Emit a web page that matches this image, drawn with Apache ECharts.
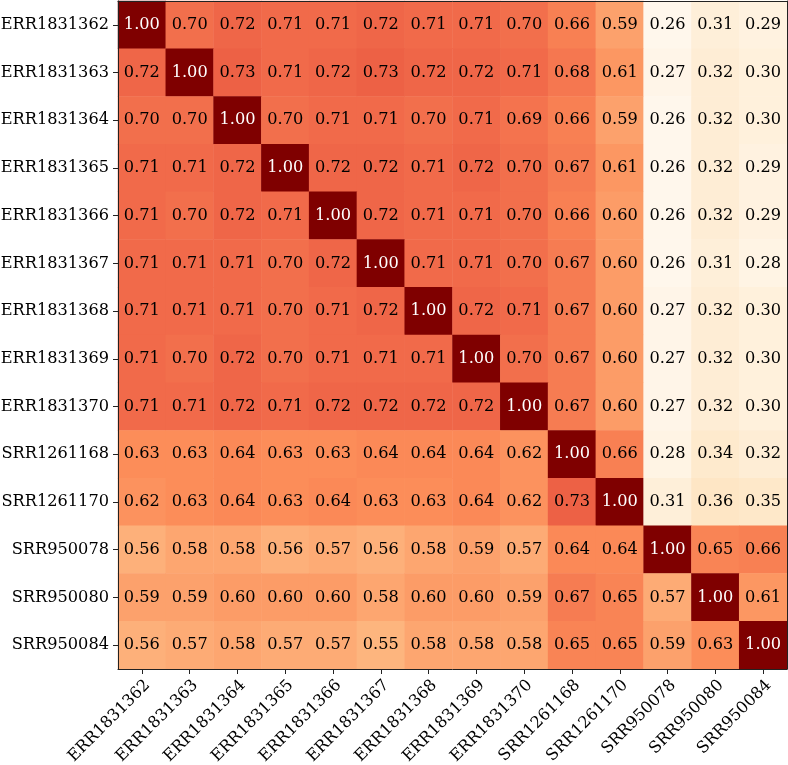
<!DOCTYPE html>
<html>
<head>
<meta charset="utf-8">
<script src="https://cdn.jsdelivr.net/npm/echarts@6/dist/echarts.min.js"></script>
<style>
  html, body { margin: 0; padding: 0; background: #fff; }
  #chart { width: 788px; height: 765px; }
</style>
</head>
<body>
<div id="chart"></div>
<script>
const samples = [
  'ERR1831362', 'ERR1831363', 'ERR1831364', 'ERR1831365', 'ERR1831366',
  'ERR1831367', 'ERR1831368', 'ERR1831369', 'ERR1831370', 'SRR1261168',
  'SRR1261170', 'SRR950078', 'SRR950080', 'SRR950084'
];

// one row per sample, same order as columns
const rowERR1831362 = [1.00, 0.70, 0.72, 0.71, 0.71, 0.72, 0.71, 0.71, 0.70, 0.66, 0.59, 0.26, 0.31, 0.29];
const rowERR1831363 = [0.72, 1.00, 0.73, 0.71, 0.72, 0.73, 0.72, 0.72, 0.71, 0.68, 0.61, 0.27, 0.32, 0.30];
const rowERR1831364 = [0.70, 0.70, 1.00, 0.70, 0.71, 0.71, 0.70, 0.71, 0.69, 0.66, 0.59, 0.26, 0.32, 0.30];
const rowERR1831365 = [0.71, 0.71, 0.72, 1.00, 0.72, 0.72, 0.71, 0.72, 0.70, 0.67, 0.61, 0.26, 0.32, 0.29];
const rowERR1831366 = [0.71, 0.70, 0.72, 0.71, 1.00, 0.72, 0.71, 0.71, 0.70, 0.66, 0.60, 0.26, 0.32, 0.29];
const rowERR1831367 = [0.71, 0.71, 0.71, 0.70, 0.72, 1.00, 0.71, 0.71, 0.70, 0.67, 0.60, 0.26, 0.31, 0.28];
const rowERR1831368 = [0.71, 0.71, 0.71, 0.70, 0.71, 0.72, 1.00, 0.72, 0.71, 0.67, 0.60, 0.27, 0.32, 0.30];
const rowERR1831369 = [0.71, 0.70, 0.72, 0.70, 0.71, 0.71, 0.71, 1.00, 0.70, 0.67, 0.60, 0.27, 0.32, 0.30];
const rowERR1831370 = [0.71, 0.71, 0.72, 0.71, 0.72, 0.72, 0.72, 0.72, 1.00, 0.67, 0.60, 0.27, 0.32, 0.30];
const rowSRR1261168 = [0.63, 0.63, 0.64, 0.63, 0.63, 0.64, 0.64, 0.64, 0.62, 1.00, 0.66, 0.28, 0.34, 0.32];
const rowSRR1261170 = [0.62, 0.63, 0.64, 0.63, 0.64, 0.63, 0.63, 0.64, 0.62, 0.73, 1.00, 0.31, 0.36, 0.35];
const rowSRR950078  = [0.56, 0.58, 0.58, 0.56, 0.57, 0.56, 0.58, 0.59, 0.57, 0.64, 0.64, 1.00, 0.65, 0.66];
const rowSRR950080  = [0.59, 0.59, 0.60, 0.60, 0.60, 0.58, 0.60, 0.60, 0.59, 0.67, 0.65, 0.57, 1.00, 0.61];
const rowSRR950084  = [0.56, 0.57, 0.58, 0.57, 0.57, 0.55, 0.58, 0.58, 0.58, 0.65, 0.65, 0.59, 0.63, 1.00];

const rows = [
  rowERR1831362, rowERR1831363, rowERR1831364, rowERR1831365, rowERR1831366,
  rowERR1831367, rowERR1831368, rowERR1831369, rowERR1831370, rowSRR1261168,
  rowSRR1261170, rowSRR950078, rowSRR950080, rowSRR950084
];

// matplotlib OrRd
const orRd = ['#fff7ec', '#fee8c8', '#fdd49e', '#fdbb84', '#fc8d59', '#ef6548', '#d7301f', '#b30000', '#7f0000'];

const font = 'DejaVu Serif';
const fontSize = 16.2;
const spine = '#222';

const cells = [];
rows.forEach((row, y) => {
  row.forEach((v, x) => {
    cells.push({
      value: [x, y, v],
      label: { color: v >= 0.9 ? '#fff' : '#000' }
    });
  });
});
const allValues = rows.flat();
const vmin = Math.min(...allValues);
const vmax = Math.max(...allValues);

const chart = echarts.init(document.getElementById('chart'));

const frameAxis = {
  type: 'category',
  data: samples,
  axisLine: { show: true, lineStyle: { color: spine, width: 1 } },
  axisTick: { show: false },
  axisLabel: { show: false },
  splitLine: { show: false },
  z: 5
};

chart.setOption({
  animation: false,
  grid: {
    left: 118, top: 1, right: 1, bottom: 96,
    containLabel: false,
    outerBoundsMode: 'none'
  },
  xAxis: [
    {
      type: 'category',
      data: samples,
      position: 'bottom',
      axisLine: { show: true, lineStyle: { color: spine, width: 1 } },
      axisTick: { show: true, alignWithLabel: true, length: 5, lineStyle: { color: spine } },
      axisLabel: {
        rotate: 45,
        interval: 0,
        margin: 8,
        verticalAlign: 'top',
        color: '#000',
        fontFamily: font,
        fontSize: fontSize
      },
      splitLine: { show: false },
      z: 5
    },
    Object.assign({}, frameAxis, { position: 'top' })
  ],
  yAxis: [
    {
      type: 'category',
      data: samples,
      inverse: true,
      position: 'left',
      axisLine: { show: true, lineStyle: { color: spine, width: 1 } },
      axisTick: { show: true, alignWithLabel: true, length: 5, lineStyle: { color: spine } },
      axisLabel: {
        interval: 0,
        margin: 9,
        color: '#000',
        fontFamily: font,
        fontSize: fontSize
      },
      splitLine: { show: false },
      z: 5
    },
    Object.assign({}, frameAxis, { position: 'right', inverse: true })
  ],
  visualMap: {
    show: false,
    type: 'continuous',
    min: vmin,
    max: vmax,
    dimension: 2,
    inRange: { color: orRd }
  },
  series: [
    {
      type: 'heatmap',
      data: cells,
      label: {
        show: true,
        fontFamily: font,
        fontSize: fontSize,
        formatter: p => p.value[2].toFixed(2)
      },
      itemStyle: { borderWidth: 0 },
      emphasis: { disabled: true }
    }
  ]
});
</script>
</body>
</html>
